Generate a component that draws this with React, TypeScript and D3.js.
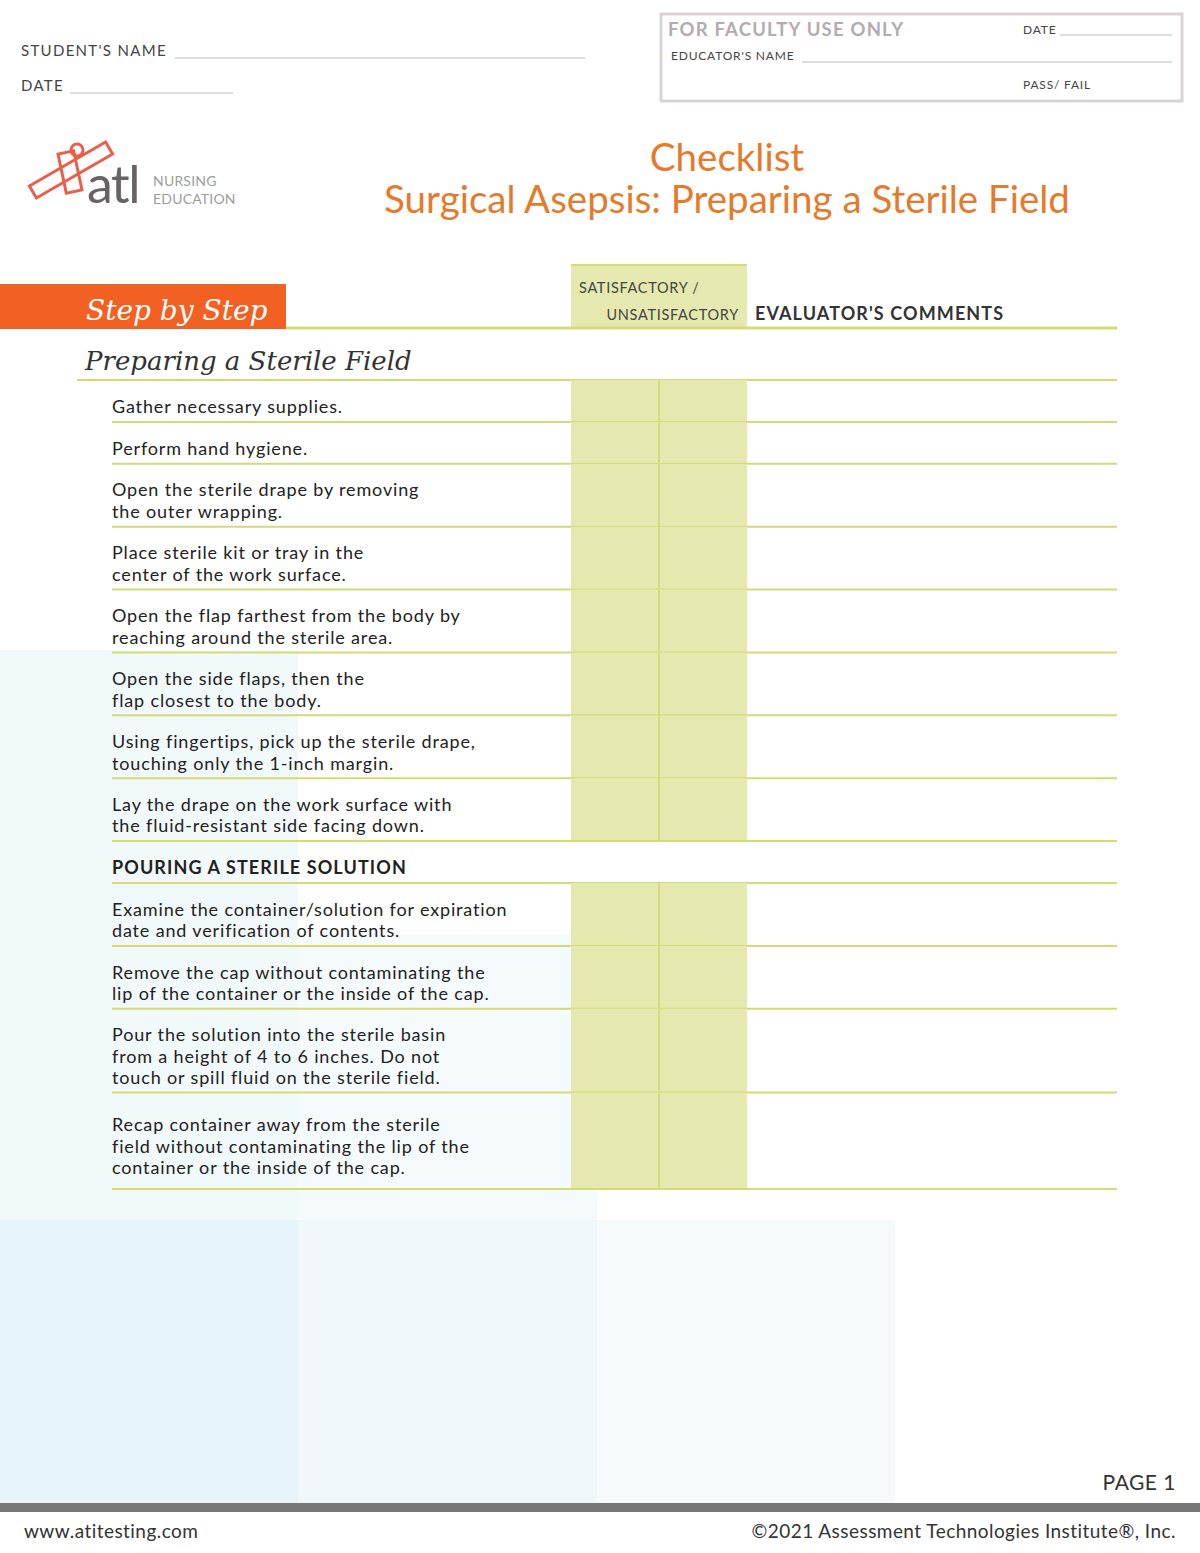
import React from 'react'
import * as d3 from 'd3'

const width = 1200
const height = 1553

const studentFields = ["STUDENT'S NAME", 'DATE']
const facultyTitle = 'FOR FACULTY USE ONLY'
const facultyFields = ['DATE', "EDUCATOR'S NAME", 'PASS/ FAIL']
const titleLines = ['Checklist', 'Surgical Asepsis: Preparing a Sterile Field']
const logoWords = ['atl', 'NURSING', 'EDUCATION']
const bannerText = 'Step by Step'
const ratingHeader = ['SATISFACTORY /', 'UNSATISFACTORY']
const commentsHeader = "EVALUATOR'S COMMENTS"
const sectionTitle = 'Preparing a Sterile Field'
const ratingCols = ['satisfactory', 'unsatisfactory']

const prepSteps = [
  ['Gather necessary supplies.'],
  ['Perform hand hygiene.'],
  ['Open the sterile drape by removing', 'the outer wrapping.'],
  ['Place sterile kit or tray in the', 'center of the work surface.'],
  ['Open the flap farthest from the body by', 'reaching around the sterile area.'],
  ['Open the side flaps, then the', 'flap closest to the body.'],
  ['Using fingertips, pick up the sterile drape,', 'touching only the 1-inch margin.'],
  ['Lay the drape on the work surface with', 'the fluid-resistant side facing down.'],
]
const pouringHeading = 'POURING A STERILE SOLUTION'
const pouringSteps = [
  ['Examine the container/solution for expiration', 'date and verification of contents.'],
  ['Remove the cap without contaminating the', 'lip of the container or the inside of the cap.'],
  ['Pour the solution into the sterile basin', 'from a height of 4 to 6 inches. Do not', 'touch or spill fluid on the sterile field.'],
  ['Recap container away from the sterile', 'field without contaminating the lip of the', 'container or the inside of the cap.'],
]
const footerLeft = 'www.atitesting.com'
const footerRight = '©2021 Assessment Technologies Institute®, Inc.'
const pageLabel = 'PAGE 1'

const GREEN = '#d3da78'
const CELL = '#e5e9af'
const ORANGE = '#e47b2c'
const SANS = 'Lato, "Noto Sans", sans-serif'
const SERIF = '"DejaVu Serif", serif'

type Row = { kind: 'step' | 'heading'; lines: string[]; units: number }

const buildRows = (): Row[] => {
  const rows: Row[] = []
  prepSteps.forEach(l => rows.push({ kind: 'step', lines: l, units: l.length + 1 }))
  rows.push({ kind: 'heading', lines: [pouringHeading], units: 2 })
  // the last row of the page is a little taller than the others
  pouringSteps.forEach((l, i) =>
    rows.push({ kind: 'step', lines: l, units: l.length + 1 + (i === pouringSteps.length - 1 ? 0.6 : 0) }))
  return rows
}

const App = () => {
  const rows = buildRows()
  const totalUnits = d3.sum(rows, r => r.units)
  const y = d3.scaleLinear().domain([0, totalUnits]).range([380, 1189])
  const x = d3.scaleBand().domain(ratingCols).range([571, 747]).padding(0)
  const lineH = 21.6

  let acc = 0
  const laid = rows.map(r => {
    const top = y(acc)
    acc += r.units
    const bottom = y(acc)
    return { ...r, top, bottom }
  })

  const bgBlocks = [
    { x0: 0, x1: 298, y0: 650, y1: 1220, fill: '#f2f9fb' },
    { x0: 298, x1: 597, y0: 934, y1: 1220, fill: '#f5fafc' },
    { x0: 0, x1: 298, y0: 1220, y1: 1503, fill: '#e6f3f8' },
    { x0: 298, x1: 597, y0: 1220, y1: 1503, fill: '#eff7fa' },
    { x0: 597, x1: 895, y0: 1220, y1: 1503, fill: '#f5fafc' },
  ]

  return (
    <svg width={width} height={height} style={{ position: 'absolute', left: 0, top: 0, background: '#fff' }}>
      {bgBlocks.map((b, i) => (
        <rect key={i} x={b.x0} y={b.y0} width={b.x1 - b.x0} height={b.y1 - b.y0} fill={b.fill} />
      ))}

      {/* student fields */}
      <g fontFamily={SANS} fontSize={15} fill="#444" letterSpacing={1.3}>
        <text x={21} y={56}>{studentFields[0]}</text>
        <line x1={175} x2={585} y1={58} y2={58} stroke="#bbb" />
        <text x={21} y={91}>{studentFields[1]}</text>
        <line x1={70} x2={233} y1={93} y2={93} stroke="#bbb" />
      </g>

      {/* faculty box */}
      <rect x={661} y={14} width={521} height={87} fill="none" stroke="#d9d3d5" strokeWidth={3} />
      <text x={668} y={36} fontFamily={SANS} fontWeight={700} fontSize={18.5} fill="#b3abad" letterSpacing={1.2}>{facultyTitle}</text>
      <g fontFamily={SANS} fontSize={12} fill="#444" letterSpacing={0.8}>
        <text x={1023} y={34}>{facultyFields[0]}</text>
        <line x1={1060} x2={1172} y1={35} y2={35} stroke="#bbb" />
        <text x={671} y={60}>{facultyFields[1]}</text>
        <line x1={802} x2={1172} y1={62} y2={62} stroke="#bbb" />
        <text x={1023} y={89}>{facultyFields[2]}</text>
      </g>

      {/* logo */}
      <g fill="none" stroke="#e8604c" strokeWidth={3}>
        <rect x={-44} y={-7} width={88} height={14} transform="translate(71,170) rotate(-30)" />
        <rect x={-8} y={-20} width={16} height={40} transform="translate(70,172) rotate(-12)" />
        <circle cx={77} cy={150} r={6} />
      </g>
      <text x={87} y={203} fontFamily={SANS} fontSize={52} fill="#686264" letterSpacing={-1.5}>{logoWords[0]}</text>
      <g fontFamily={SANS} fontSize={14} fill="#9d9d9d" letterSpacing={0.2}>
        <text x={153} y={186}>{logoWords[1]}</text>
        <text x={153} y={204}>{logoWords[2]}</text>
      </g>

      {/* title */}
      <g fontFamily={SANS} fontSize={38.5} fill={ORANGE} textAnchor="middle">
        <text x={727} y={171}>{titleLines[0]}</text>
        <text x={727} y={213}>{titleLines[1]}</text>
      </g>

      {/* banner */}
      <rect x={0} y={284} width={286} height={45} fill="#f26123" />
      <text x={86} y={320} fontFamily={SERIF} fontStyle="italic" fontSize={28} fill="#fff">{bannerText}</text>
      <line x1={286} x2={571} y1={328} y2={328} stroke={GREEN} strokeWidth={3} />
      <rect x={571} y={264} width={176} height={64} fill={CELL} />
      <line x1={571} x2={747} y1={265} y2={265} stroke={GREEN} strokeWidth={2} />
      <g fontFamily={SANS} fontSize={14.5} fill="#444" letterSpacing={0.7}>
        <text x={579} y={293}>{ratingHeader[0]}</text>
        <text x={739} y={320} textAnchor="end">{ratingHeader[1]}</text>
      </g>
      <text x={755} y={320} fontFamily={SANS} fontWeight={700} fontSize={18} fill="#333" letterSpacing={1.1}>{commentsHeader}</text>
      <line x1={571} x2={1117} y1={328} y2={328} stroke={GREEN} strokeWidth={3} />

      {/* section title */}
      <text x={85} y={370} fontFamily={SERIF} fontStyle="italic" fontSize={26} fill="#333">{sectionTitle}</text>
      <line x1={77} x2={1117} y1={380} y2={380} stroke={GREEN} strokeWidth={2} />

      {/* rows */}
      {laid.map((r, i) => (
        <g key={i}>
          {r.kind === 'step' && ratingCols.map(c => (
            <rect key={c} x={x(c)} y={r.top} width={x.bandwidth()} height={r.bottom - r.top} fill={CELL} />
          ))}
          {r.kind === 'step' && (
            <line x1={x('unsatisfactory')} x2={x('unsatisfactory')} y1={r.top} y2={r.bottom} stroke="#d0d76c" strokeWidth={1.5} />
          )}
          {r.lines.map((t, j) => (
            <text
              key={j}
              x={112}
              y={(r.top + r.bottom) / 2 + 12 - ((r.lines.length - 1) * lineH) / 2 + j * lineH}
              fontFamily={SANS}
              fontSize={18}
              fontWeight={r.kind === 'heading' ? 700 : 400}
              fill="#222"
              letterSpacing={r.kind === 'heading' ? 1.1 : 0.85}
            >{t}</text>
          ))}
          <line x1={112} x2={1117} y1={r.bottom} y2={r.bottom} stroke={GREEN} strokeWidth={2} />
        </g>
      ))}

      {/* footer */}
      <text x={1176} y={1490} textAnchor="end" fontFamily={SANS} fontSize={21} fill="#333" letterSpacing={0.5}>{pageLabel}</text>
      <rect x={0} y={1503} width={width} height={9} fill="#777" />
      <g fontFamily={SANS} fontSize={19} fill="#333" letterSpacing={0.45}>
        <text x={24} y={1538}>{footerLeft}</text>
        <text x={1176} y={1538} textAnchor="end">{footerRight}</text>
      </g>
    </svg>
  )
}

export default App
